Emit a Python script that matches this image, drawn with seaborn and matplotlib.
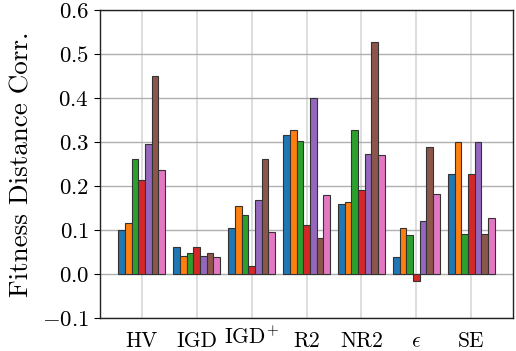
import matplotlib
matplotlib.use("Agg")
import matplotlib.pyplot as plt
import seaborn as sns
import pandas as pd

categories = ["HV", "IGD", "$\\mathrm{IGD}^{+}$", "R2", "NR2", "$\\epsilon$", "SE"]
series_names = ["S1", "S2", "S3", "S4", "S5", "S6", "S7"]
values = {
    "S1": [0.099, 0.061, 0.105, 0.316, 0.159, 0.039, 0.227],
    "S2": [0.116, 0.040, 0.154, 0.327, 0.163, 0.104, 0.299],
    "S3": [0.261, 0.048, 0.134, 0.302, 0.327, 0.089, 0.091],
    "S4": [0.214, 0.061, 0.018, 0.111, 0.192, -0.017, 0.227],
    "S5": [0.295, 0.040, 0.168, 0.400, 0.273, 0.120, 0.299],
    "S6": [0.451, 0.048, 0.261, 0.082, 0.527, 0.289, 0.091],
    "S7": [0.236, 0.039, 0.095, 0.180, 0.270, 0.182, 0.127],
}
yticks = [-0.1, 0.0, 0.1, 0.2, 0.3, 0.4, 0.5, 0.6]

rows = []
for s in series_names:
    for c, v in zip(categories, values[s]):
        rows.append({"metric": c, "series": s, "value": v})
df = pd.DataFrame(rows)

sns.set_theme(style="whitegrid")
plt.rcParams["font.family"] = ["serif"]
plt.rcParams["font.serif"] = ["cmr10"]
plt.rcParams["mathtext.fontset"] = "cm"
plt.rcParams["axes.formatter.use_mathtext"] = True
plt.rcParams["text.color"] = "black"
plt.rcParams["axes.labelcolor"] = "black"
plt.rcParams["xtick.labelcolor"] = "black"
plt.rcParams["ytick.labelcolor"] = "black"

fig = plt.figure(figsize=(5.16, 3.51), dpi=100)
ax = fig.add_axes([0.194, 0.094, 0.800, 0.8775])
sns.barplot(data=df, x="metric", y="value", hue="series", order=categories,
            hue_order=series_names, palette="tab10", saturation=1, width=0.85,
            edgecolor="#333333", linewidth=0.8, legend=False, ax=ax, zorder=3)
ax.set_axisbelow(True)
ax.set_xlim(-0.76, 6.76)
ax.set_ylim(-0.1, 0.6)
ax.set_yticks(yticks)
ax.set_xlabel("")
ax.set_ylabel("Fitness Distance Corr.", fontsize=19.5, labelpad=6, color="black")
ax.tick_params(axis="x", labelsize=15.5, pad=4, labelcolor="black")
ax.tick_params(axis="y", labelsize=16.5, left=True, length=4, width=0.8,
               color="black", pad=4, labelcolor="black")
# align the superscripted label with the others
xt = ax.xaxis.get_major_ticks()
xt[2].set_pad(-0.5)
ax.grid(axis="y", color="#b0b0b0", linewidth=1.0)
ax.grid(axis="x", color="#d8d8d8", linewidth=1.2)
for sp in ax.spines.values():
    sp.set_color("#222222")
    sp.set_linewidth(1.0)

fig.savefig("out.png", dpi=100)
